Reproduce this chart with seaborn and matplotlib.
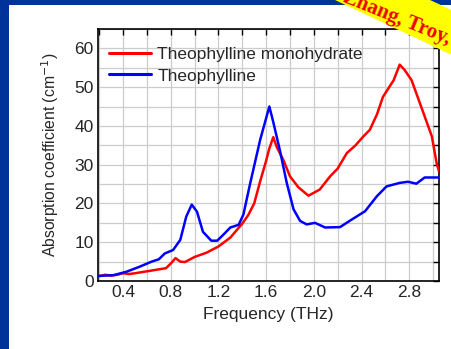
import matplotlib
matplotlib.use("Agg")
import matplotlib.pyplot as plt
import seaborn as sns
import pandas as pd
import numpy as np
from matplotlib.patches import Rectangle, Polygon
from matplotlib.ticker import MultipleLocator

# ---- data ----
freq_mono = [0.19, 0.25, 0.3, 0.35, 0.4, 0.45, 0.5, 0.6, 0.7, 0.76, 0.8, 0.84, 0.88, 0.92,
             1.0, 1.1, 1.2, 1.3, 1.4, 1.45, 1.5, 1.55, 1.6, 1.625, 1.66, 1.69, 1.745, 1.8,
             1.87, 1.955, 2.05, 2.137, 2.2, 2.277, 2.35, 2.416, 2.47, 2.53, 2.58, 2.67,
             2.72, 2.76, 2.82, 2.92, 2.99, 3.03, 3.05]
abs_mono = [1.2, 1.6, 1.4, 1.6, 2.0, 1.8, 2.0, 2.5, 3.0, 3.3, 4.5, 5.9, 5.0, 4.9,
            6.2, 7.3, 8.9, 11.2, 14.8, 17.0, 20.0, 25.7, 31.0, 34.0, 37.1, 34.5, 31.2, 27.0,
            24.2, 22.0, 23.6, 27.0, 29.0, 33.0, 35.0, 37.3, 39.0, 43.0, 47.5, 51.8,
            55.8, 54.5, 51.8, 43.3, 37.3, 30.4, 28.3]

freq_theo = [0.19, 0.32, 0.43, 0.54, 0.64, 0.70, 0.75, 0.82, 0.88, 0.93, 0.976, 1.02, 1.07,
             1.14, 1.19, 1.24, 1.30, 1.37, 1.41, 1.465, 1.55, 1.627, 1.66, 1.717, 1.773,
             1.83, 1.885, 1.94, 2.01, 2.095, 2.22, 2.30, 2.43, 2.53, 2.61, 2.72, 2.79,
             2.86, 2.93, 3.05]
abs_theo = [1.3, 1.5, 2.4, 3.7, 5.0, 5.6, 7.1, 8.0, 10.6, 16.6, 19.7, 17.9, 12.7,
            10.4, 10.4, 11.9, 13.8, 14.5, 17.2, 25.0, 36.4, 45.0, 41.0, 33.5, 25.3,
            18.5, 15.5, 14.6, 15.0, 13.8, 13.9, 15.5, 18.0, 21.9, 24.4, 25.3, 25.6,
            25.1, 26.7, 26.7]

series_names = ["Theophylline monohydrate", "Theophylline"]
x_ticks = [0.4, 0.8, 1.2, 1.6, 2.0, 2.4, 2.8]
y_ticks = [0, 10, 20, 30, 40, 50, 60]
banner_text = "Zhang, Troy, NY"

df = pd.concat([
    pd.DataFrame({"Frequency": freq_mono, "Absorption": abs_mono, "Sample": series_names[0]}),
    pd.DataFrame({"Frequency": freq_theo, "Absorption": abs_theo, "Sample": series_names[1]}),
], ignore_index=True)

# ---- style ----
sns.set_style("white")
plt.rcParams["font.family"] = ["Liberation Sans", "DejaVu Sans"]

W, H = 452, 349
fig = plt.figure(figsize=(W / 100, H / 100), dpi=100, facecolor="#003399")
fig.patches.append(Rectangle((9 / W, 0), 1, (H - 5) / H, transform=fig.transFigure,
                             facecolor="white", edgecolor="none", zorder=-5))

ax = fig.add_axes([98 / W, (H - 281) / H, (439 - 98) / W, (281 - 29) / H])
ax.set_zorder(1)

sns.lineplot(data=df, x="Frequency", y="Absorption", hue="Sample", sort=False,
             palette={series_names[0]: "#ff0000", series_names[1]: "#0000ff"},
             linewidth=1.8, ax=ax, legend=True, zorder=3)

ax.set_xlim(0.19, 3.05)
ax.set_ylim(0, 65)
ax.set_xticks(x_ticks)
ax.set_xticklabels([f"{v:.1f}" for v in x_ticks])
ax.set_yticks(y_ticks)
ax.xaxis.set_minor_locator(MultipleLocator(0.2))
ax.yaxis.set_minor_locator(MultipleLocator(5))
ax.grid(True, which="both", color="#cccccc", linewidth=0.9, zorder=0)
ax.set_axisbelow(True)
ax.tick_params(which="both", direction="in", top=True, right=True, length=4,
               width=1, color="black", labelsize=12.5, pad=3)
for s in ax.spines.values():
    s.set_color("black")
    s.set_linewidth(1.2)

ax.set_xlabel("Frequency (THz)", fontsize=12.5, labelpad=5)
ax.set_ylabel("Absorption coefficient (cm$^{-1}$)", fontsize=11.3, labelpad=10)

leg = ax.legend(loc="upper left", bbox_to_anchor=(0.032, 0.93), frameon=False,
                fontsize=12.5, handlelength=2.45, handletextpad=0.34, labelspacing=0.38,
                borderaxespad=0, borderpad=0)
for line in leg.get_lines():
    line.set_linewidth(2.2)

# yellow banner in the top right corner
band_px = [(325, -4.7), (460, 58.8), (460, 13.8), (410, -9.2)]
fig.patches.append(Polygon([(x / W, 1 - y / H) for x, y in band_px], closed=True,
                           transform=fig.transFigure, facecolor="#ffff00",
                           edgecolor="none", zorder=5))
fig.text(341.5 / W, 1 - 1.5 / H, banner_text, rotation=-22, rotation_mode="anchor",
         ha="left", va="baseline",
         fontsize=15, fontweight="bold", color="#ee0000",
         family=["Liberation Serif", "DejaVu Serif"], zorder=10)

fig.savefig("out.png", dpi=100, facecolor=fig.get_facecolor())
